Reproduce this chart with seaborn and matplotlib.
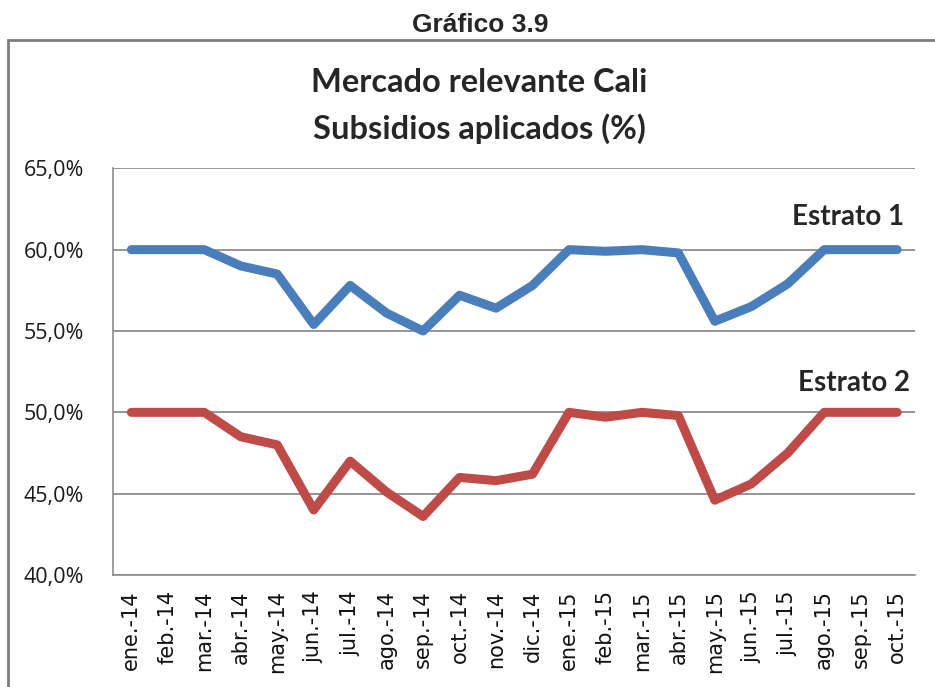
import numpy as np
import pandas as pd
import matplotlib
matplotlib.use("Agg")
import matplotlib.pyplot as plt
import seaborn as sns
from matplotlib.ticker import FuncFormatter, FixedLocator
from matplotlib.patches import Rectangle

# months shown on the x axis
meses = ["ene.-14", "feb.-14", "mar.-14", "abr.-14", "may.-14", "jun.-14",
         "jul.-14", "ago.-14", "sep.-14", "oct.-14", "nov.-14", "dic.-14",
         "ene.-15", "feb.-15", "mar.-15", "abr.-15", "may.-15", "jun.-15",
         "jul.-15", "ago.-15", "sep.-15", "oct.-15"]

# subsidies applied (%)
estrato_1 = [60.0, 60.0, 60.0, 59.0, 58.5, 55.4, 57.8, 56.1, 55.0, 57.2, 56.4,
             57.8, 60.0, 59.9, 60.0, 59.8, 55.6, 56.5, 57.9, 60.0, 60.0, 60.0]
estrato_2 = [50.0, 50.0, 50.0, 48.5, 48.0, 44.0, 47.0, 45.1, 43.6, 46.0, 45.8,
             46.2, 50.0, 49.7, 50.0, 49.8, 44.6, 45.6, 47.5, 50.0, 50.0, 50.0]

df = pd.DataFrame({
    "mes": meses * 2,
    "valor": estrato_1 + estrato_2,
    "serie": ["Estrato 1"] * len(meses) + ["Estrato 2"] * len(meses),
})

sns.set_style("white")
fig = plt.figure(figsize=(9.35, 6.87), dpi=100)
ax = fig.add_axes([0.121, 0.163, 0.858, 0.592])

sns.lineplot(data=df, x="mes", y="valor", hue="serie", sort=False,
             palette={"Estrato 1": "#4A7EBB", "Estrato 2": "#BE4B48"},
             linewidth=6.5, solid_capstyle="round", solid_joinstyle="round",
             legend=False, ax=ax)

ax.set_xlim(-0.5, len(meses) - 0.5)
ax.set_ylim(40, 65)
ax.set_yticks([40, 45, 50, 55, 60, 65])
ax.yaxis.set_major_formatter(FuncFormatter(lambda v, p: f"{v:.1f}%".replace(".", ",")))
ax.grid(axis="y", color="#8C8C8C", linewidth=1.3)
ax.set_axisbelow(True)
ax.set_xlabel("")
ax.set_ylabel("")

# tick marks between categories, like excel
ax.xaxis.set_minor_locator(FixedLocator(np.arange(-0.5, len(meses), 1)))
ax.tick_params(axis="x", which="major", length=0, pad=11, labelsize=15, rotation=90)
ax.tick_params(axis="x", which="minor", length=7, width=1.2, color="#8C8C8C", direction="out")
ax.tick_params(axis="y", length=7, width=1.2, color="#8C8C8C", direction="out",
               labelsize=15.5, pad=14)
for lbl in ax.get_yticklabels():
    lbl.set_family("Open Sans")
    lbl.set_color("#1A1A1A")
for lbl in ax.get_xticklabels():
    lbl.set_family("DejaVu Sans")
    lbl.set_color("#111111")

for s in ["top", "right"]:
    ax.spines[s].set_visible(False)
for s in ["left", "bottom"]:
    ax.spines[s].set_color("#8C8C8C")
    ax.spines[s].set_linewidth(1.2)

ax.text(21.2, 62.0, "Estrato 1", ha="right", va="center", fontsize=20,
        fontweight="bold", family="Lato")
ax.text(21.35, 51.8, "Estrato 2", ha="right", va="center", fontsize=20,
        fontweight="bold", family="Lato")

# outer frame of the chart
fig.patches.append(Rectangle((0.009, -0.05), 1.05, 0.992, transform=fig.transFigure,
                             fill=False, edgecolor="#7F7F7F", linewidth=2))

fig.text(0.514, 0.953, "Gráfico 3.9", ha="center", va="baseline", fontsize=19,
         fontweight="bold", family="Liberation Sans")
fig.text(0.513, 0.88, "Mercado relevante Cali", ha="center", va="center",
         fontsize=23.5, fontweight="bold", family="Lato")
fig.text(0.513, 0.813, "Subsidios aplicados (%)", ha="center", va="center",
         fontsize=23.5, fontweight="bold", family="Lato")

fig.savefig("out.png", dpi=100)
